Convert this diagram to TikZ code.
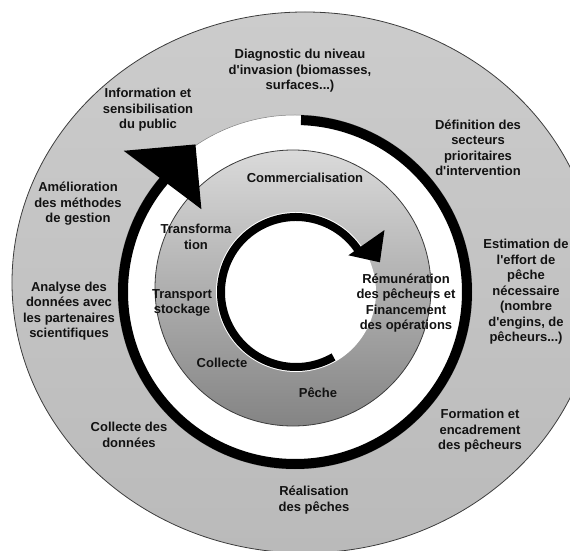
\documentclass[tikz,border=0pt]{standalone}
\usepackage{fontspec}
\newfontfamily\lsans{Liberation Sans}
\definecolor{txt}{RGB}{18,18,18}
\definecolor{ringout}{RGB}{60,60,60}
\begin{document}
\begin{tikzpicture}[x=1pt,y=1pt,
  lbl/.style={font=\lsans\fontsize{13}{15.5}\selectfont\bfseries, align=center, text=txt, inner sep=0pt},
  rim/.style={draw=ringout, line width=0.8pt}]
\useasboundingbox (-295,-259) rectangle (275,292);
% outer disc
\shade[rim, top color={rgb,255:red,204;green,204;blue,204}, bottom color={rgb,255:red,186;green,186;blue,186}] (10,9.5) ellipse[x radius=293, y radius=270.5];
% white ring
\fill[white] (0,0) circle[radius=177];
\draw[gray, line width=0.5pt] (0,0) circle[radius=177];
% middle disc
\shade[rim, top color={rgb,255:red,218;green,218;blue,218}, bottom color={rgb,255:red,132;green,132;blue,132}] (-2,4) circle[radius=138];
% inner white disc
\fill[white] (1,0) circle[radius=80];
% outer arrow
\draw[line width=10pt] (88:172) arc[start angle=88, end angle=-221, radius=172];
\fill (140.5:222) -- (124:178) -- (138.5:125) -- cycle;
% inner arrow
\begin{scope}[shift={(1,0)}]
\draw[line width=8pt] (-60:75) arc[start angle=-60, end angle=-326, radius=75];
\fill (35:108) -- (19.5:89) -- (35:64) -- cycle;
\end{scope}
% outer labels
\node[lbl] (diag) at (5,221) {Diagnostic du niveau\\d'invasion (biomasses,\\surfaces...)};
\node[lbl] (info) at (-147,182) {Information et\\sensibilisation\\du public};
\node[lbl] (defi) at (183,144) {Définition des\\secteurs\\prioritaires\\d'intervention};
\node[lbl] (esti) at (231,0) {Estimation de\\l'effort de\\pêche\\nécessaire\\(nombre\\d'engins, de\\pêcheurs...)};
\node[lbl] (form) at (185,-139) {Formation et\\encadrement\\des pêcheurs};
\node[lbl] (real) at (19,-208) {Réalisation\\des pêches};
\node[lbl] (coll) at (-166,-143) {Collecte des\\données};
\node[lbl] (anal) at (-226,-19) {Analyse des\\données avec\\les partenaires\\scientifiques};
\node[lbl] (amel) at (-217,88) {Amélioration\\des méthodes\\de gestion};
% inner labels
\node[lbl] (comm) at (10,114) {Commercialisation};
\node[lbl] (trans) at (-99,55) {Transforma\\tion};
\node[lbl] (tran) at (-113,-11) {Transport\\stockage};
\node[lbl] (colc) at (-73,-71) {Collecte};
\node[lbl] (pech) at (23,-101) {Pêche};
\node[lbl] (remu) at (111,-11) {Rémunération\\des pêcheurs et\\Financement\\des opérations};
\end{tikzpicture}
\end{document}
